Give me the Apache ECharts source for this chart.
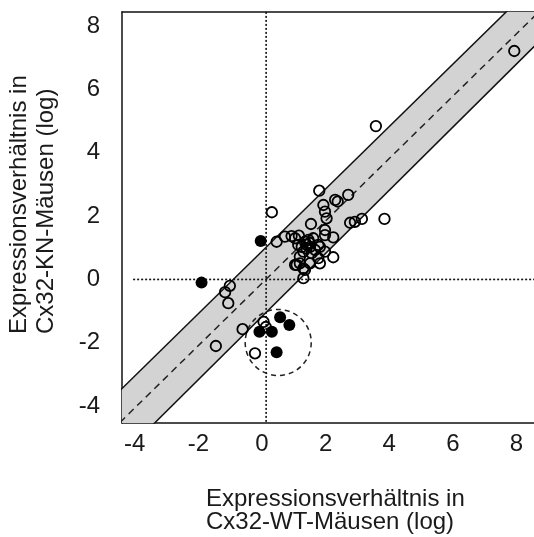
<!DOCTYPE html>
<html>
<head>
<meta charset="utf-8">
<script src="https://cdn.jsdelivr.net/npm/echarts@6/dist/echarts.min.js"></script>
<style>
  html, body { margin: 0; padding: 0; background: #fff; }
  #chart { width: 534px; height: 537px; }
</style>
</head>
<body>
<div id="chart"></div>
<script>
// tick labels
const xTicks = [-4, -2, 0, 2, 4, 6, 8]
const yTicks = [-4, -2, 0, 2, 4, 6, 8]

// open circles: [WT, KN]
const openPoints = [
  [1.80, 2.80], [2.71, 2.67], [2.30, 2.51], [2.38, 2.46], [1.93, 2.35],
  [1.98, 2.14], [2.03, 1.93], [1.54, 1.75], [2.77, 1.79], [2.92, 1.82],
  [3.14, 1.91], [3.85, 1.91], [0.31, 2.12], [1.98, 1.56], [2.24, 1.33],
  [0.46, 1.19], [0.72, 1.35], [0.93, 1.37], [3.58, 4.84], [7.93, 7.21],
  [-1.01, -0.20], [-1.16, -0.40], [-1.06, -0.75], [-0.61, -1.57], [-1.45, -2.10],
  [-0.22, -2.33], [0.05, -1.34], [0.12, -1.50],
  [2.24, 0.70], [1.30, 0.04], [1.09, 0.46], [1.30, 0.35], [1.51, 0.51],
  [1.82, 1.03], [1.77, 0.67],
  [1.16, 1.38], [1.98, 1.40], [1.14, 1.09], [1.35, 1.19], [1.51, 1.03],
  [1.30, 0.88], [1.56, 0.83], [1.77, 1.09], [1.98, 0.88], [1.19, 0.51],
  [1.35, 0.30], [1.04, 0.46], [1.82, 0.51], [1.19, 0.72], [1.46, 1.25],
  [1.04, 1.30], [1.61, 1.30], [1.40, 0.98], [1.25, 1.03], [1.67, 0.93],
  [1.40, 1.10], [1.50, 1.15]
]
// filled circles
const filledPoints = [
  [-0.04, 1.21], [-1.90, -0.10], [0.57, -1.19], [0.86, -1.44],
  [-0.08, -1.65], [0.31, -1.65], [0.46, -2.30]
]

// regression line and +-1 band, as endpoints
const centerLine = [[-5, -5.04], [10, 9.72]]
const bandUpper = [[-5, -4.03], [10, 10.73]]
const bandLower = [[-5, -6.15], [10, 8.79]]
// dotted zero lines
const vZero = [[0.13, -5], [0.13, 9]]
const hZero = [[-4.05, 0], [10, 0]]
// dashed circle round the group of filled points
const ringCenter = [[0.51, -1.99]]
const ringRadius = 1.04

const font = '"Liberation Sans", Arial, sans-serif'
const textColor = '#1a1a1a'
const frame = { show: true, onZero: false, lineStyle: { color: '#111', width: 1.5 } }

const chart = echarts.init(document.getElementById('chart'), null, { renderer: 'canvas' })
chart.setOption({
  animation: false,
  backgroundColor: '#fff',
  grid: {
    left: 122,
    top: 12,
    right: 0,
    bottom: 114,
  },
  xAxis: [
    {
      type: 'value',
      min: -4.40,
      max: 8.55,
      axisLine: frame,
      axisTick: { show: false },
      splitLine: { show: false },
      axisLabel: {
        customValues: xTicks,
        margin: 9,
        fontSize: 24,
        fontFamily: font,
        color: textColor,
      },
    },
    {
      // top frame line only
      type: 'value',
      position: 'top',
      min: -4.40,
      max: 8.55,
      axisLine: frame,
      axisTick: { show: false },
      splitLine: { show: false },
      axisLabel: { show: false },
    },
  ],
  yAxis: {
    type: 'value',
    min: -4.53,
    max: 8.44,
    axisLine: frame,
    axisTick: { show: false },
    splitLine: { show: false },
    axisLabel: {
      customValues: yTicks,
      margin: 22,
      fontSize: 24,
      fontFamily: font,
      color: textColor,
    },
  },
  graphic: [
    {
      type: 'text',
      x: 206,
      y: 488,
      style: {
        text: 'Expressionsverhältnis in\nCx32-WT-Mäusen (log)',
        fontSize: 24,
        fontFamily: font,
        lineHeight: 23,
        fill: textColor,
        align: 'left',
        verticalAlign: 'top',
      },
    },
    {
      type: 'text',
      x: 6,
      y: 334,
      rotation: Math.PI / 2,
      style: {
        text: 'Expressionsverhältnis in\nCx32-KN-Mäusen (log)',
        fontSize: 24,
        fontFamily: font,
        lineHeight: 27,
        fill: textColor,
        align: 'left',
        verticalAlign: 'top',
      },
    },
  ],
  series: [
    {
      type: 'custom',
      clip: true,
      silent: true,
      z: 1,
      data: [[0, 0]],
      renderItem: function (params, api) {
        const pts = bandUpper.concat(bandLower.slice().reverse()).map(p => api.coord(p))
        return { type: 'polygon', shape: { points: pts }, style: { fill: '#d3d3d3' } }
      },
    },
    {
      type: 'line',
      data: bandUpper,
      showSymbol: false,
      silent: true,
      z: 2,
      lineStyle: { color: '#111', width: 1.5 },
    },
    {
      type: 'line',
      data: bandLower,
      showSymbol: false,
      silent: true,
      z: 2,
      lineStyle: { color: '#111', width: 1.5 },
    },
    {
      type: 'line',
      data: centerLine,
      showSymbol: false,
      silent: true,
      z: 2,
      lineStyle: { color: '#222', width: 1.5, type: [7, 5] },
    },
    {
      type: 'line',
      data: vZero,
      showSymbol: false,
      silent: true,
      z: 2,
      lineStyle: { color: '#111', width: 1.6, type: [2, 2] },
    },
    {
      type: 'line',
      data: hZero,
      showSymbol: false,
      silent: true,
      z: 2,
      lineStyle: { color: '#111', width: 1.6, type: [2, 2] },
    },
    {
      type: 'custom',
      clip: true,
      silent: true,
      z: 3,
      data: ringCenter,
      renderItem: function (params, api) {
        const c = api.coord([api.value(0), api.value(1)])
        const s = api.size([ringRadius, ringRadius])
        return {
          type: 'circle',
          shape: { cx: c[0], cy: c[1], r: (s[0] + s[1]) / 2 },
          style: { fill: 'none', stroke: '#222', lineWidth: 1.5, lineDash: [5, 4] },
        }
      },
    },
    {
      type: 'scatter',
      data: openPoints,
      symbol: 'circle',
      symbolSize: 10.5,
      z: 4,
      itemStyle: { color: 'transparent', borderColor: '#000', borderWidth: 1.8, opacity: 1 },
    },
    {
      type: 'scatter',
      data: filledPoints,
      symbol: 'circle',
      symbolSize: 12,
      z: 5,
      itemStyle: { color: '#000', borderColor: '#000', borderWidth: 0, opacity: 1 },
    },
  ],
})
</script>
</body>
</html>
